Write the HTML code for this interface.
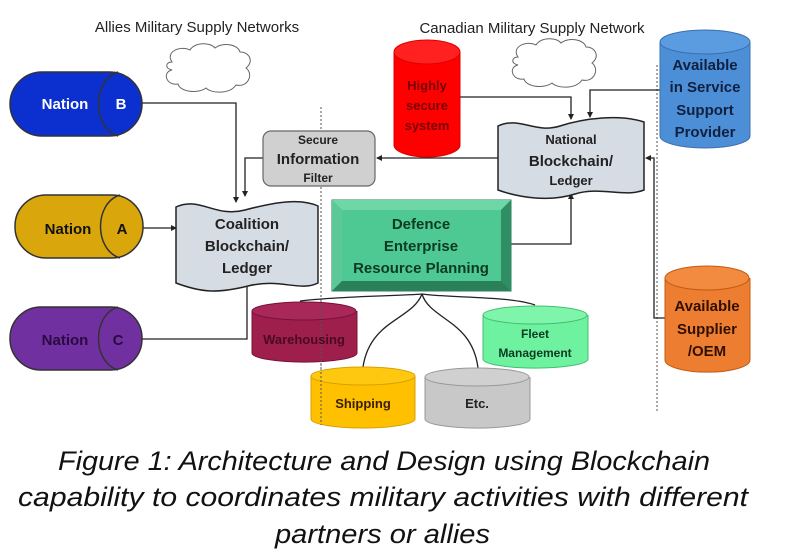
<!DOCTYPE html>
<html><head><meta charset="utf-8"><style>
html,body{margin:0;padding:0;background:#fff;}
svg{display:block;}
text{font-family:"Liberation Sans",sans-serif;font-weight:bold;}
</style></head><body>
<svg width="790" height="558" viewBox="0 0 790 558" xmlns="http://www.w3.org/2000/svg">
<defs>
<marker id="ar" markerWidth="6" markerHeight="6" refX="5" refY="3" orient="auto" markerUnits="userSpaceOnUse"><path d="M0,0 L6,3 L0,6 z" fill="#222"/></marker>
</defs>
<rect width="790" height="558" fill="#fff"/>
<!-- titles -->
<text x="197" y="32" font-size="15" font-weight="normal" text-anchor="middle" fill="#222" style="font-weight:normal">Allies Military Supply Networks</text>
<text x="532" y="33" font-size="15" text-anchor="middle" fill="#222" style="font-weight:normal">Canadian Military Supply Network</text>
<!-- clouds -->
<g fill="#fff" stroke="#666" stroke-width="1">
<path d="M172,62 C165,52 180,45 190,50 C195,42 210,42 215,48 C222,42 238,44 240,52 C250,52 254,62 246,68 C254,74 248,88 236,85 C230,94 212,94 206,88 C198,94 180,92 178,84 C166,86 162,72 172,70 C164,68 166,62 172,62 z"/>
<path d="M518,57 C511,47 526,40 536,45 C541,37 556,37 561,43 C568,37 584,39 586,47 C596,47 600,57 592,63 C600,69 594,83 582,80 C576,89 558,89 552,83 C544,89 526,87 524,79 C512,81 508,67 518,65 C510,63 512,57 518,57 z"/>
</g>
<!-- dotted verticals -->
<line x1="321" y1="107" x2="321" y2="425" stroke="#555" stroke-width="1" stroke-dasharray="2,2"/>
<line x1="657" y1="65" x2="657" y2="412" stroke="#555" stroke-width="1" stroke-dasharray="2,2"/>
<!-- connectors -->
<g fill="none" stroke="#222" stroke-width="1.3">
<path d="M142,103 H236 V202" marker-end="url(#ar)"/>
<path d="M143,228 H176" marker-end="url(#ar)"/>
<path d="M142,339 H247 V287"/>
<path d="M263,158 H245 V196" marker-end="url(#ar)"/>
<path d="M498,158 H377" marker-end="url(#ar)"/>
<path d="M460,97 H571 V119" marker-end="url(#ar)"/>
<path d="M660,90 H590 V117" marker-end="url(#ar)"/>
<path d="M665,318 H654 V158 H646" marker-end="url(#ar)"/>
<path d="M511,244 H571 V194" marker-end="url(#ar)"/>
<path d="M422,294 C400,296 340,296 300,301"/>
<path d="M422,294 C412,320 370,320 363,367"/>
<path d="M422,294 C430,320 472,320 478,368"/>
<path d="M422,294 C450,298 510,296 535,305"/>
</g>
<!-- Nation cylinders horizontal -->
<g stroke="#333" stroke-width="1.5">
<rect x="10" y="72" width="132" height="64" rx="32" fill="#0b30cf"/>
<path d="M118,72 C92,80 92,128 118,136" fill="none"/>
<rect x="15" y="195" width="128" height="63" rx="31" fill="#d9a70c"/>
<path d="M120,195 C94,203 94,250 120,258" fill="none"/>
<rect x="10" y="307" width="132" height="63" rx="31" fill="#7030a0"/>
<path d="M118,307 C92,315 92,362 118,370" fill="none"/>
</g>
<text x="65" y="109" font-size="15" fill="#fff" text-anchor="middle">Nation</text>
<text x="121" y="109" font-size="15" fill="#fff" text-anchor="middle">B</text>
<text x="68" y="234" font-size="15" fill="#111" text-anchor="middle">Nation</text>
<text x="122" y="234" font-size="15" fill="#111" text-anchor="middle">A</text>
<text x="65" y="345" font-size="15" fill="#2a0a40" text-anchor="middle">Nation</text>
<text x="118" y="345" font-size="15" fill="#2a0a40" text-anchor="middle">C</text>
<!-- Coalition wavy -->
<path d="M176,207 C200,196 215,218 245,210 S300,198 318,206 V283 C300,292 280,278 248,286 S200,292 176,283 z" fill="#d6dce4" stroke="#222" stroke-width="1.5"/>
<text x="247" y="229" font-size="15" text-anchor="middle" fill="#222">Coalition</text>
<text x="247" y="251" font-size="15" text-anchor="middle" fill="#222">Blockchain/</text>
<text x="247" y="273" font-size="15" text-anchor="middle" fill="#222">Ledger</text>
<!-- Secure filter -->
<rect x="263" y="131" width="112" height="55" rx="8" fill="#d0d0d0" stroke="#666" stroke-width="1.2"/>
<text x="318" y="144" font-size="12" text-anchor="middle" fill="#222">Secure</text>
<text x="318" y="164" font-size="15" text-anchor="middle" fill="#222">Information</text>
<text x="318" y="182" font-size="12" text-anchor="middle" fill="#222">Filter</text>
<!-- DERP -->
<rect x="332" y="200" width="179" height="91" fill="#3daa7a" stroke="#2e7d5a"/>
<polygon points="332,200 511,200 501,210 342,210" fill="#6fd6a8"/>
<polygon points="332,200 342,210 342,281 332,291" fill="#5cc898"/>
<polygon points="511,200 511,291 501,281 501,210" fill="#2f8e64"/>
<polygon points="332,291 511,291 501,281 342,281" fill="#2a8058"/>
<rect x="342" y="210" width="159" height="71" fill="#4fc994"/>
<text x="421" y="229" font-size="15" text-anchor="middle" fill="#0c3a22">Defence</text>
<text x="421" y="251" font-size="15" text-anchor="middle" fill="#0c3a22">Enterprise</text>
<text x="421" y="273" font-size="15" text-anchor="middle" fill="#0c3a22">Resource Planning</text>
<!-- National wavy -->
<path d="M498,126 C520,116 535,134 560,126 S620,114 644,122 V190 C625,198 600,186 575,194 S520,198 498,190 z" fill="#d6dce4" stroke="#222" stroke-width="1.5"/>
<text x="571" y="144" font-size="13" text-anchor="middle" fill="#222">National</text>
<text x="571" y="166" font-size="15" text-anchor="middle" fill="#222">Blockchain/</text>
<text x="571" y="185" font-size="13" text-anchor="middle" fill="#222">Ledger</text>
<!-- vertical cylinders -->
<g stroke-width="1">
<path d="M394,52 V145 A33,12 0 0 0 460,145 V52" fill="#ff0000" stroke="#d00"/>
<ellipse cx="427" cy="52" rx="33" ry="12" fill="#ff2020" stroke="#d00"/>
<path d="M660,42 V136 A45,12 0 0 0 750,136 V42" fill="#4d8fd6" stroke="#3a70b0"/>
<ellipse cx="705" cy="42" rx="45" ry="12" fill="#5b9be0" stroke="#3a70b0"/>
<path d="M665,278 V360 A42,12 0 0 0 750,360 V278" fill="#ed7d31" stroke="#c55a11"/>
<ellipse cx="707" cy="278" rx="42" ry="12" fill="#f28a40" stroke="#c55a11"/>
<path d="M252,311 V353 A52,9 0 0 0 357,353 V311" fill="#9e1f4c" stroke="#7a1038"/>
<ellipse cx="304" cy="311" rx="52" ry="9" fill="#a8285a" stroke="#7a1038"/>
<path d="M483,315 V359 A52,9 0 0 0 588,359 V315" fill="#6ef2a0" stroke="#40c070"/>
<ellipse cx="535" cy="315" rx="52" ry="9" fill="#7ef5ab" stroke="#40c070"/>
<path d="M311,376 V419 A52,9 0 0 0 415,419 V376" fill="#ffc000" stroke="#d9a000"/>
<ellipse cx="363" cy="376" rx="52" ry="9" fill="#ffc810" stroke="#d9a000"/>
<path d="M425,377 V419 A52,9 0 0 0 530,419 V377" fill="#c8c8c8" stroke="#999"/>
<ellipse cx="477" cy="377" rx="52" ry="9" fill="#d0d0d0" stroke="#999"/>
</g>
<line x1="321" y1="300" x2="321" y2="425" stroke="#555" stroke-width="1" stroke-dasharray="2,2"/>
<text x="427" y="90" font-size="13" text-anchor="middle" fill="#700">Highly</text>
<text x="427" y="110" font-size="13" text-anchor="middle" fill="#700">secure</text>
<text x="427" y="130" font-size="13" text-anchor="middle" fill="#700">system</text>
<text x="705" y="70" font-size="15" text-anchor="middle" fill="#102040">Available</text>
<text x="705" y="92" font-size="15" text-anchor="middle" fill="#102040">in Service</text>
<text x="705" y="115" font-size="15" text-anchor="middle" fill="#102040">Support</text>
<text x="705" y="137" font-size="15" text-anchor="middle" fill="#102040">Provider</text>
<text x="707" y="311" font-size="15" text-anchor="middle" fill="#301000">Available</text>
<text x="707" y="334" font-size="15" text-anchor="middle" fill="#301000">Supplier</text>
<text x="707" y="356" font-size="15" text-anchor="middle" fill="#301000">/OEM</text>
<text x="304" y="344" font-size="13" text-anchor="middle" fill="#4a0a20">Warehousing</text>
<text x="535" y="338" font-size="12" text-anchor="middle" fill="#0c3a22">Fleet</text>
<text x="535" y="357" font-size="12" text-anchor="middle" fill="#0c3a22">Management</text>
<text x="363" y="408" font-size="13" text-anchor="middle" fill="#3a2000">Shipping</text>
<text x="477" y="408" font-size="13" text-anchor="middle" fill="#222">Etc.</text>
<!-- caption -->
<g font-style="italic" fill="#111" style="font-weight:normal">
<text x="58" y="470" font-size="27" textLength="652" lengthAdjust="spacingAndGlyphs" style="font-weight:normal">Figure 1: Architecture and Design using Blockchain</text>
<text x="18" y="506" font-size="27" textLength="730" lengthAdjust="spacingAndGlyphs" style="font-weight:normal">capability to coordinates military activities with different</text>
<text x="275" y="543" font-size="27" textLength="215" lengthAdjust="spacingAndGlyphs" style="font-weight:normal">partners or allies</text>
</g>
</svg>
</body></html>
